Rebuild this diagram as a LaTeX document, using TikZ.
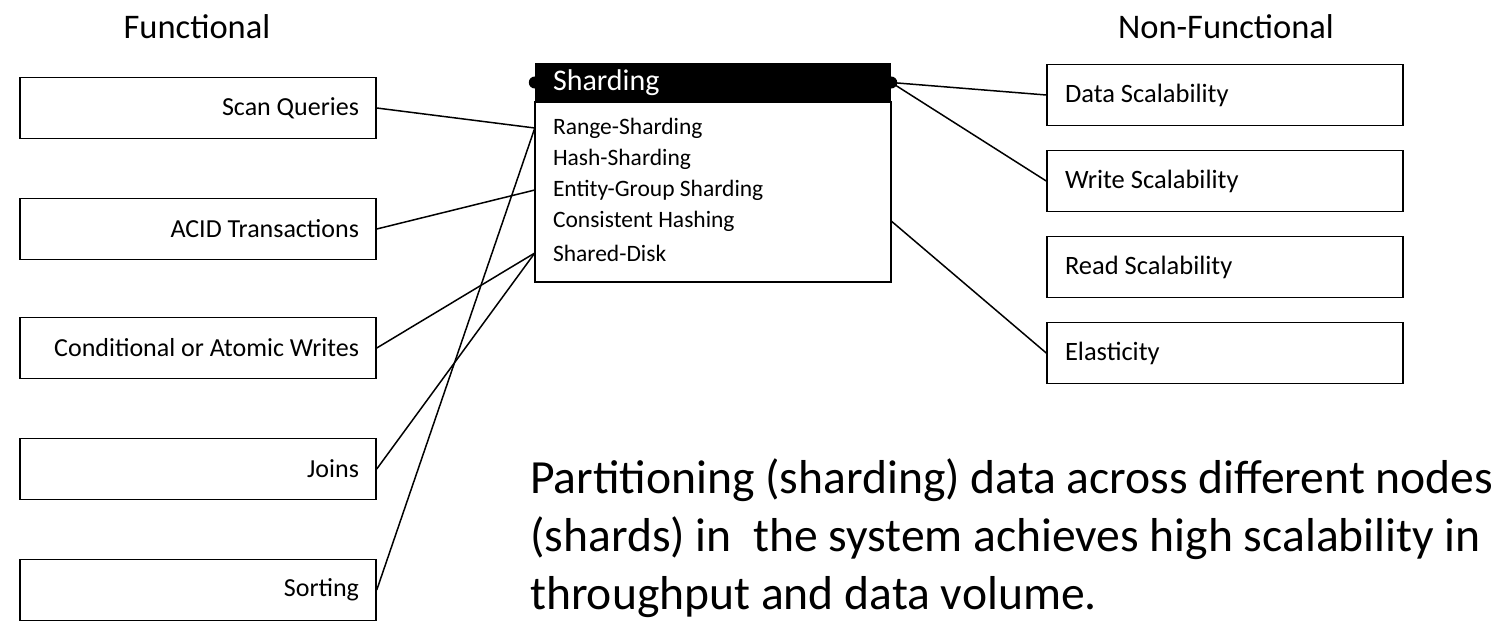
\documentclass[tikz,border=0pt]{standalone}
\usepackage{fontspec}
\setmainfont{Carlito}
\usepackage{tikz}

\begin{document}
\begin{tikzpicture}[x=1pt,y=-1pt,
	fbox/.style={draw, line width=1.5pt, minimum height=61pt, text width=322pt,
		inner xsep=17pt, align=flush right, font=\fontsize{26}{30}\selectfont},
	nfbox/.style={draw, line width=1.5pt, minimum height=61pt, text width=320pt,
		inner xsep=18pt, align=flush left, font=\fontsize{26.5}{30}\selectfont},
	item/.style={text width=320pt, inner xsep=18pt, inner ysep=0pt, align=flush left,
		font=\fontsize{23.5}{26}\selectfont}]
	\useasboundingbox (0,0) rectangle (1499,634);

	% headings
	\node[font=\fontsize{34.5}{38}\selectfont] (fh) at (197,27) {Functional};
	\node[font=\fontsize{34.5}{38}\selectfont] (nh) at (1226,27) {Non-Functional};

	% functional requirements
	\node[fbox] (f1) at (198,108) {Scan Queries};
	\node[fbox] (f2) at (198,229) {ACID Transactions};
	\node[fbox] (f3) at (198,348) {Conditional or Atomic Writes};
	\node[fbox] (f4) at (198,469) {Joins};
	\node[fbox] (f5) at (198,590) {Sorting};

	% non-functional requirements
	\node[nfbox] (n1) at (1225,95) {Data Scalability};
	\node[nfbox] (n2) at (1225,181) {Write Scalability};
	\node[nfbox] (n3) at (1225,267) {Read Scalability};
	\node[nfbox] (n4) at (1225,353) {Elasticity};

	% sharding techniques
	\node[draw, line width=1.5pt, minimum width=356pt, minimum height=180pt,
		inner sep=0pt] (body) at (713,192) {};
	\node[fill=black, text=white, minimum height=39pt, item,
		font=\fontsize{30}{32}\selectfont] (hdr) at (713,82.5) {Sharding};
	\fill (hdr.west) circle (6pt);
	\fill (hdr.east) circle (6pt);
	\node[item] (s1) at (713,128) {Range-Sharding};
	\node[item] (s2) at (713,159) {Hash-Sharding};
	\node[item] (s3) at (713,190) {Entity-Group Sharding};
	\node[item] (s4) at (713,221) {Consistent Hashing};
	\node[item] (s5) at (713,253) {Shared-Disk};

	\path [-, line width=1.5pt]
	(f1.east) edge (s1.west)
	(f2.east) edge (s3.west)
	(f3.east) edge (s5.west)
	(f4.east) edge (s5.west)
	(f5.east) edge (s1.west)
	(hdr.east) edge (n1.west)
	           edge (n2.west)
	(s4.east) edge (n4.west);

	\node[anchor=north west, align=left, inner sep=0pt,
		font=\fontsize{47.6}{58}\selectfont] (txt) at (530,458)
		{Partitioning (sharding) data across different nodes\\
		(shards) in \ the system achieves high scalability in\\
		throughput and data volume.};
\end{tikzpicture}
\end{document}
